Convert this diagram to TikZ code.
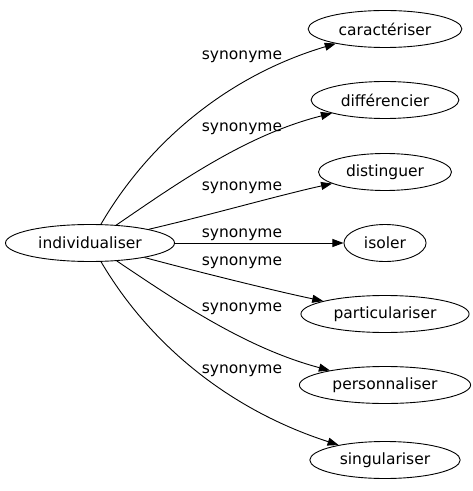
\documentclass[tikz,border=0pt]{standalone}
\usepackage{fontspec}
\setmainfont{DejaVu Sans}
\usetikzlibrary{arrows.meta,shapes.geometric}
\tikzset{
  >={Triangle[length=11bp,width=8bp]},
  font=\fontsize{15.5bp}{18bp}\selectfont,
  word/.style={ellipse,draw,line width=0.9bp,inner xsep=8bp,minimum height=37bp},
  syn/.style={->,line width=0.9bp},
  lbl/.style={inner sep=1pt},
}
\begin{document}
\begin{tikzpicture}[x=1bp,y=-1bp]
  \useasboundingbox (0,0) rectangle (473,491);
  % ---- words ----
  \node[word] (ind) at (90,243) {individualiser};
  \node[word] (car) at (385,29)  {caractériser};
  \node[word] (dif) at (385,100) {différencier};
  \node[word] (dis) at (385,172) {distinguer};
  \node[word] (iso) at (385,243) {isoler};
  \node[word] (par) at (385,314) {particulariser};
  \node[word] (per) at (385,385) {personnaliser};
  \node[word] (sin) at (385,460) {singulariser};
  % ---- edges ----
  \draw[syn] (ind) .. controls (150,140) and (230,75)  .. (car);
  \draw[syn] (ind) .. controls (175,185) and (245,135) .. (dif);
  \draw[syn] (ind) .. controls (210,215) and (280,195) .. (dis);
  \draw[syn] (ind) -- (iso);
  \draw[syn] (ind) .. controls (210,275) and (280,292) .. (par);
  \draw[syn] (ind) .. controls (175,300) and (245,348) .. (per);
  \draw[syn] (ind) .. controls (150,345) and (230,410) .. (sin);
  % ---- labels ----
  \node[lbl] (l1) at (242,57)  {synonyme};
  \node[lbl] (l2) at (242,129) {synonyme};
  \node[lbl] (l3) at (242,188) {synonyme};
  \node[lbl] (l4) at (242,235) {synonyme};
  \node[lbl] (l5) at (242,263) {synonyme};
  \node[lbl] (l6) at (242,309) {synonyme};
  \node[lbl] (l7) at (242,371) {synonyme};
\end{tikzpicture}
\end{document}
